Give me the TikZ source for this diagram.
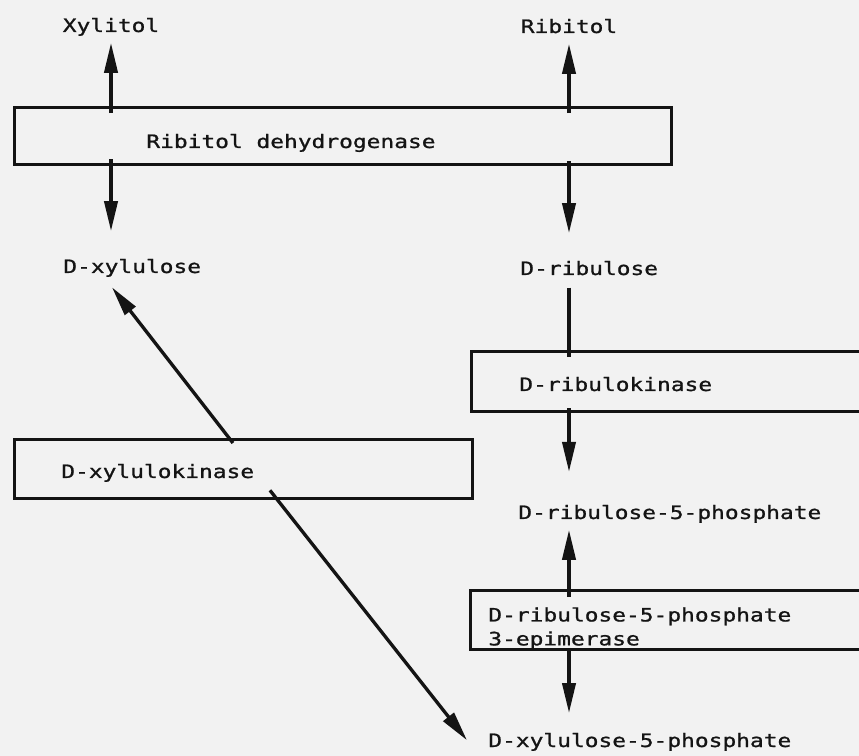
\documentclass[tikz,border=0pt]{standalone}
\usepackage{fontspec}
\newfontfamily\typefont[FakeStretch=1.24,FakeBold=1]{DejaVu Sans Mono}
\usetikzlibrary{arrows.meta,positioning}
\definecolor{paper}{HTML}{F2F2F2}
\definecolor{ink}{HTML}{141414}
\tikzset{
  enzbox/.style={
    rectangle, draw=ink, line width=1.9pt, anchor=north west,
    inner sep=0pt, minimum height=1.18cm
  },
  metab/.style={
    anchor=base west, inner sep=0pt, text=ink,
    font=\typefont\fontsize{10.5}{13.6}\selectfont,
    text height=7.65pt, text depth=0pt
  },
  enzlabel/.style={
    anchor=base west, inner sep=0pt, text=ink, align=left,
    font=\typefont\fontsize{10.5}{13.6}\selectfont
  },
  flowarrow/.style={-{Triangle[length=17pt,width=7.5pt]}, line width=1.9pt, color=ink},
  flowline/.style={line width=1.9pt, color=ink},
}
\begin{document}
\begin{tikzpicture}[x=0.02cm, y=-0.02cm]
  \path[use as bounding box, fill=paper] (0,0) rectangle (859,756);
  \clip (0,0) rectangle (859,756);

  % sugars and alcohols
  \node[metab, anchor=base] (xylitol) at (111,32) {Xylitol};
  \node[metab, anchor=base] (ribitol) at (569,33) {Ribitol};
  \node[metab] (dxylulose) at (63,273) {D-xylulose};
  \node[metab] (dribulose) at (520,275) {D-ribulose};
  \node[metab] (r5p) at (518,519) {D-ribulose-5-phosphate};
  \node[metab] (x5p) at (488,747) {D-xylulose-5-phosphate};

  % enzymes
  \node[enzbox, minimum width=13.14cm, minimum height=1.14cm] (rdh) at (13,106) {};
  \node[enzlabel] (rdhlbl) at (146,148) {Ribitol dehydrogenase};
  \node[enzbox, minimum width=8.2cm, minimum height=1.2cm] (rk) at (470,350) {};
  \node[enzlabel] (rklbl) at (519,391) {D-ribulokinase};
  \node[enzbox, minimum width=9.16cm] (xk) at (13,438) {};
  \node[enzlabel] (xklbl) at (61,478) {D-xylulokinase};
  \node[enzbox, minimum width=8.2cm] (epi) at (469,589) {};
  \node[enzlabel, anchor=north west] (epilbl) at (488,607) {D-ribulose-5-phosphate\\3-epimerase};

  \coordinate[below right=0.28cm and 0.98cm of dxylulose.south west] (xyltip);
  \coordinate[below right=0.1cm and 4.4cm of xk.north west] (xkout);
  \coordinate[above right=0.2cm and 5.14cm of xk.south west] (xkin);
  \coordinate[left=0.42cm of x5p.west] (x5ptip);

  \draw[flowarrow, shorten <=-4pt, shorten >=6pt] (rdh.north -| xylitol) -- (xylitol);
  \draw[flowarrow, shorten <=-4pt, shorten >=6pt] (rdh.north -| ribitol) -- (ribitol);
  \draw[flowarrow, shorten <=-4pt, shorten >=16pt] (rdh.south -| xylitol) -- (dxylulose.north -| xylitol);
  \draw[flowarrow, shorten <=-3pt, shorten >=16pt] (rdh.south -| ribitol) -- (dribulose.north -| ribitol);
  \draw[flowline, shorten <=7pt, shorten >=-4pt] (dribulose.south -| ribitol) -- (rk.north -| ribitol);
  \draw[flowarrow, shorten <=-3pt, shorten >=19pt] (rk.south -| ribitol) -- (r5p.north -| ribitol);
  \draw[flowarrow, shorten <=-4.5pt, shorten >=6pt] (epi.north -| ribitol) -- (r5p.south -| ribitol);
  \draw[flowarrow, shorten <=-2pt, shorten >=11.5pt] (epi.south -| ribitol) -- (x5p.north -| ribitol);
  \draw[flowarrow] (xkout) -- (xyltip);
  \draw[flowarrow] (xkin) -- (x5ptip);
\end{tikzpicture}
\end{document}
